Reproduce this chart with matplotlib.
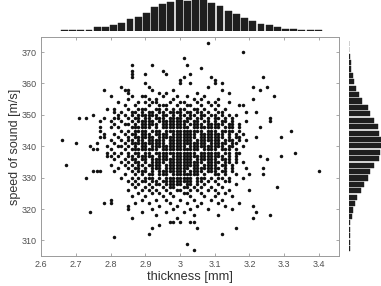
import numpy as np
import matplotlib.pyplot as plt

plt.rcParams['font.family'] = ['Liberation Sans', 'DejaVu Sans']

# scatter: values sit on a 0.01 mm x 1 m/s grid.
# each row: speed [m/s], then 9 groups of 10 cells for 2.60-2.69, 2.70-2.79, ... 3.40-3.49 mm
GRID = """
373 .......... .......... .......... .......... ........#. .......... .......... .......... ..........
370 .......... .......... .......... .......... .......... ........#. .......... .......... ..........
368 .......... .......... .......... .......... .#........ .......... .......... .......... ..........
366 .......... .......... ......#... ..#....... ..#....... .......... .......... .......... ..........
365 .......... .......... .......... .......... ......#... .......... .......... .......... ..........
364 .......... .......... ......#... .....#.... .......... .......... .......... .......... ..........
363 .......... .......... ......#... #.....#... ...#...... .......... .......... .......... ..........
362 .......... .......... ......#... .......... .#.......# .......... ....#..... .......... ..........
361 .......... .......... .......... .......... #......... #......... .......... .......... ..........
360 .......... .......... .......... #......... #..#...... #.#....... .......... .......... ..........
359 .......... .......... ...#...... .#........ ........#. .......... .#...#.... .......... ..........
358 .......... ........#. ....##.... ..#.....#. .......... ..#....... ...#...... .......... ..........
357 .......... .......... .....#.... ....#.#... .....#.... ....#..... .......... .......... ..........
356 .......... .......... #.....#..# #....#...# ..#....#.. .......... .......#.. .......... ..........
355 .......... .......... .....#.... .#.#....#. ....#.#... .#........ .#........ .......... ..........
354 .......... .......... ..#.....#. #.##...#.. ##...#..#. #...#..... .......... .......... ..........
353 .......... .......... ....#..#.. .#..###..# ..##..#..# .#.....##. .......... .......... ..........
352 .......... .........# .#...#..## #..##.#.#. ##..##.#.. #..#...... .......... .......... ..........
351 .......... .......... .#.#..##.# .##.##.### #.##.##.#. .##......# ..#....... .......... ..........
350 .......... .....#.... ..#.#.#.## ####.##.#. ##.##.##.# #.#.#.#... .......... .......... ..........
349 .......... .#.#....#. .##..#.##. ##.###.### #.##.##.#. ##.#.#.... ......#... .......... ..........
348 .......... .......#.. #..#..#.## ###.###### ###.##.##. #.##.#...# ......#... .......... ..........
347 .......... .......... .#..##.#.# ####.##### ##.####.## ###.##.#.. .......... .......... ..........
346 .......... .......#.. #.#...#### ##.#.##### ###.###### ##.###.#.. ...#...... .......... ..........
345 .......... .......#.. ...#.#.### #.###.#### #######.## #.####.#.. .......... ..#....... ..........
344 .......... ........#. .#..#.##.# ##.####.## #####.#### ###.#.#.#. .......... .......... ..........
343 .......... .......##. ..#..#.### ###.###### #####.#### ###.#.##.. ..#......# .......... ..........
342 ......#... .......... #..#.##.## .#####.### ####.##### ##.###.#.# .......... .......... ..........
341 .......... #.....#... .#..#.#### ######.### ########.# ####.##... .......... .......... ..........
340 .......... ....#....# ..##.#.#.# #.######## ##.####### ###.##..#. .......... .......... ..........
339 .......... .....##... #...#.#### ####.##### ######.### #.###.#... .......... .......... ..........
338 .......... .........# .#.#.#.##. ##.####### #####.#### ##.##.##.. .......... ...#...... ..........
337 .......... .........# #.#..##.## ###.###.## ########## ###.#.#... ...#.....# .......... ..........
336 .......... .......... .#..#.##.# #.######## ####.##### #.###.#... .....#.... .......... ..........
335 .......... .......... ...#.#.##. #.####.### #######.## ##.##.#.#. .......... .......... ..........
334 .......#.. .......... #...#.#.## .####.#### ######.### #.##.#.... .......... .......... ..........
333 .......... .......... ..#..#.##. #.###.#### ###.###### ##.#.#...# ....#..... .......... ..........
332 .......... .....###.. .#....#.## #.#.###### ##.####.## #.##.#.... .......... .......... #.........
331 .......... .......... ....#..#.# .##.###.## ######.#.. ##.#..#... #...#..... .......... ..........
330 .......... ...#...... ...#..#.#. ###.#.#### ####.###.# .##.#...#. .......... .......... ..........
329 .......... .......... .....#.#.# #.##.##### ####.##.#. #..##..... .......... .......... ..........
328 .......... .......... ......#.#. .#.##.#### #.##.#.#.. .#....#... .......... .......... ..........
327 .......... .......... .......#.. #.#..#.##. .##.#.#..# ..#....... ........#. .......... ..........
326 .......... .......... .....#...# .#.#..#..# #..#.#..#. #...#..... #......... .......... ..........
325 .......... .......... ........#. ..#.#..#.. .##...#... .#.#...... .......... .......... ..........
324 .......... .......... ......#... #....#..#. ...#...#.. #....#.... .......... .......... ..........
323 .......... .......... #........# ...#..#... #...#....# ..#....... .......... .......... ..........
322 .......... ........#. #......#.. .#.....#.. ..#...#... .#.....#.. .......... .......... ..........
321 .......... .......... .....#.... ....#....# .....#.... ...#...... .#........ .......... ..........
320 .......... .......... .....#.... ..#.....#. ...#....#. .....#.... .......... .......... ..........
319 .......... ....#..... .........# ......#... .#........ .......... ..#....... .......... ..........
318 .......... .......... .......... ...#...... ....#..... .#........ ......#... .......... ..........
317 .......... .......... ......#... .........# .......... .......... .#........ .......... ..........
316 .......... .......... .......... .......##. #..##..... .......... .......... .......... ..........
315 .......... .......... .......... ....#..... .......... .......... .......... .......... ..........
314 .......... .......... .......... ..#....... .....#.... ......#... .......... .......... ..........
312 .......... .......... .......... .#........ .......... ..#....... .......... .......... ..........
311 .......... .......... .#........ .......... .......... .......... .......... .......... ..........
309 .......... .......... .......... .......... ..#....... .......... .......... .......... ..........
307 .......... .......... .......... .......... ....#..... .......... .......... .......... ..........
"""

# marginal histograms (bar heights)
thick_counts = [2, 2, 2, 3, 10, 12, 18, 24, 34, 42, 54, 72, 80, 87, 92, 90,
                92, 92, 84, 74, 58, 50, 38, 30, 20, 17, 10, 4, 4, 3, 3, 2]
thick_range = (2.655, 3.41)
speed_counts = [2, 2, 2, 3, 4, 8, 12, 19, 25, 37, 44, 57, 62, 75, 88, 92, 95,
                95, 88, 85, 75, 62, 57, 38, 30, 22, 15, 12, 6, 5, 3, 1, 1]  # low -> high
speed_range = (306.4, 373.8)

xticks = [2.6, 2.7, 2.8, 2.9, 3.0, 3.1, 3.2, 3.3, 3.4]
xticklabels = ['2.6', '2.7', '2.8', '2.9', '3', '3.1', '3.2', '3.3', '3.4']
yticks = [310, 320, 330, 340, 350, 360, 370]

thick, speed = [], []
for line in GRID.strip().splitlines():
    parts = line.split()
    s = int(parts[0])
    for g, group in enumerate(parts[1:]):
        for p, ch in enumerate(group):
            if ch == '#':
                thick.append(2.6 + 0.1 * g + 0.01 * p)
                speed.append(s)

W, H = 381, 286
fig = plt.figure(figsize=(W / 100, H / 100), dpi=100)
L, R, T, B = 41.3, 339.0, 37.3, 255.5
main_rect = [L / W, 1 - B / H, (R - L) / W, (B - T) / H]

ax = fig.add_axes(main_rect)
ax.scatter(thick, speed, s=6.3, c='#111111', marker='o', linewidths=0)
ax.set_xlim(2.6, 3.458)
ax.set_ylim(305.2, 374.7)
ax.set_xticks(xticks)
ax.set_xticklabels(xticklabels)
ax.set_yticks(yticks)
ax.tick_params(direction='in', length=2.2, width=0.6, colors='#9a9a9a',
               labelcolor='#505050', labelsize=6.5, top=True, right=True, pad=3)
for sp in ax.spines.values():
    sp.set_color('#9a9a9a')
    sp.set_linewidth(0.7)
ax.set_xlabel('thickness [mm]', fontsize=9.3, color='#333333', labelpad=2)
ax.set_ylabel('speed of sound [m/s]', fontsize=9, color='#333333', labelpad=1)

# top histogram
axt = fig.add_axes([L / W, 1 - 30.7 / H, (R - L) / W, 30.7 / H])
edges = np.linspace(thick_range[0], thick_range[1], len(thick_counts) + 1)
bw = edges[1] - edges[0]
axt.bar(edges[:-1] + bw / 2, thick_counts, width=bw * 0.84, color='#1e1e1e',
        edgecolor='#1e1e1e', linewidth=0.3)
axt.set_xlim(2.6, 3.458)
axt.set_ylim(0, max(thick_counts))
axt.axis('off')

# right histogram
axr = fig.add_axes([349 / W, main_rect[1], (W - 349) / W, main_rect[3]])
edges = np.linspace(speed_range[0], speed_range[1], len(speed_counts) + 1)
bh = edges[1] - edges[0]
axr.barh(edges[:-1] + bh / 2, speed_counts, height=bh * 0.8, color='#1e1e1e',
         edgecolor='#1e1e1e', linewidth=0.3)
axr.set_ylim(305.2, 374.7)
axr.set_xlim(0, max(speed_counts))
axr.axis('off')

fig.savefig('out.png', dpi=100)
